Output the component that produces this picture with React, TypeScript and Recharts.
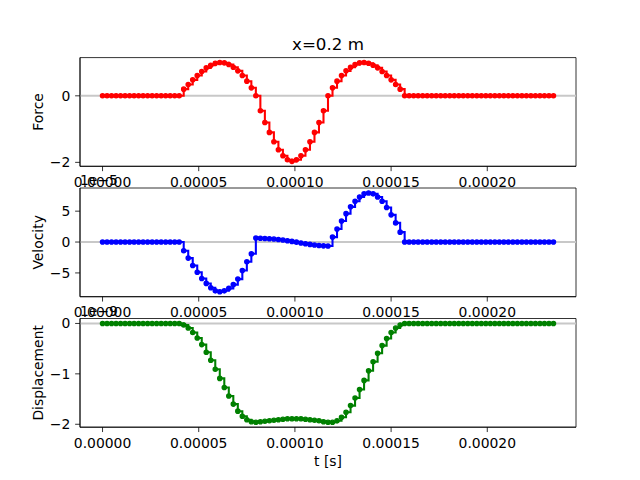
import React from "react";
import { LineChart, Line, XAxis, YAxis, ReferenceLine, ReferenceArea } from "recharts";

// sample step in seconds, 101 samples
const DT = 2.344e-6;

// force
const force = [
  0, 0, 0, 0, 0, 0, 0, 0, 0, 0, 0, 0, 0, 0, 0, 0, 0, 0,
  0.2, 0.34, 0.48, 0.61, 0.73, 0.84, 0.92, 0.98, 1.0, 0.99, 0.94, 0.86, 0.75, 0.61, 0.44, 0.24, 0.0,
  -0.45, -0.8, -1.1, -1.38, -1.62, -1.8, -1.92, -1.97, -1.92, -1.8, -1.62, -1.38, -1.1, -0.8, -0.45,
  0.0, 0.24, 0.44, 0.61, 0.75, 0.86, 0.94, 0.99, 1.0, 0.98, 0.92, 0.84, 0.73, 0.61, 0.48, 0.34, 0.2,
  0, 0, 0, 0, 0, 0, 0, 0, 0, 0, 0, 0, 0, 0, 0, 0, 0, 0, 0, 0, 0, 0, 0, 0, 0, 0, 0, 0, 0, 0, 0, 0, 0, 0,
];

// velocity, x 1e-5
const velocity = [
  0, 0, 0, 0, 0, 0, 0, 0, 0, 0, 0, 0, 0, 0, 0, 0, 0, 0,
  -1.4, -2.6, -3.8, -4.9, -5.9, -6.7, -7.4, -7.9, -8.05, -7.9, -7.5, -6.9, -6.0, -4.6, -3.2, -1.9,
  0.65, 0.62, 0.58, 0.54, 0.49, 0.42, 0.33, 0.22, 0.1, -0.02, -0.15, -0.27, -0.38, -0.48, -0.56, -0.62, -0.65,
  0.8, 2.1, 3.4, 4.6, 5.7, 6.6, 7.3, 7.8, 7.95, 7.8, 7.3, 6.6, 5.6, 4.4, 3.1, 1.6,
  0, 0, 0, 0, 0, 0, 0, 0, 0, 0, 0, 0, 0, 0, 0, 0, 0, 0, 0, 0, 0, 0, 0, 0, 0, 0, 0, 0, 0, 0, 0, 0, 0, 0,
];

// displacement, x 1e-9
const displacement = [
  0, 0, 0, 0, 0, 0, 0, 0, 0, 0, 0, 0, 0, 0, 0, 0, 0, 0,
  -0.03, -0.09, -0.18, -0.29, -0.42, -0.57, -0.73, -0.91, -1.09, -1.27, -1.44, -1.6, -1.74, -1.84, -1.91, -1.95,
  -1.96, -1.95, -1.94, -1.93, -1.92, -1.91, -1.9, -1.89, -1.89, -1.89, -1.89, -1.9, -1.91, -1.92, -1.93, -1.95, -1.96,
  -1.96, -1.93, -1.86, -1.76, -1.63, -1.48, -1.31, -1.13, -0.94, -0.76, -0.59, -0.44, -0.3, -0.18, -0.09, -0.03,
  0, 0, 0, 0, 0, 0, 0, 0, 0, 0, 0, 0, 0, 0, 0, 0, 0, 0, 0, 0, 0, 0, 0, 0, 0, 0, 0, 0, 0, 0, 0, 0, 0, 0,
];

const xTicks = [0, 0.00005, 0.0001, 0.00015, 0.0002];
const forceTicks = [-2, 0];
const velocityTicks = [-5, 0, 5];
const displacementTicks = [-2, -1, 0];

const FONT = "DejaVu Sans";
const W = 640;
const H = 480;
const LEFT = 80;
const RIGHT = 576;

const time = force.map((_, i) => i * DT);

// matplotlib style 5% margins
const pad = (lo: number, hi: number): [number, number] => [lo - 0.05 * (hi - lo), hi + 0.05 * (hi - lo)];
const xDomain = pad(time[0], time[time.length - 1]);

const fmtY = (v: number) => (v < 0 ? `\u2212${Math.abs(v)}` : `${v}`);

type PanelProps = {
  values: number[];
  color: string;
  ticks: number[];
  top: number;
  bottom: number;
};

const Panel = ({ values, color, ticks, top, bottom }: PanelProps) => {
  const rows = time.map((t, i) => ({ t, v: values[i] }));
  const yDomain = pad(Math.min(...values), Math.max(...values));
  const tickStyle = { fill: "#000", fontSize: 13.9, fontFamily: FONT };
  return (
    <div style={{ position: "absolute", left: 0, top: 0 }}>
      <LineChart
        width={W}
        height={H}
        data={rows}
        margin={{ top, right: W - RIGHT, bottom: H - bottom - 30, left: 0 }}
      >
        <XAxis
          dataKey="t"
          type="number"
          domain={xDomain}
          ticks={xTicks}
          allowDataOverflow
          height={30}
          tickSize={4.86}
          tickMargin={6}
          tick={tickStyle}
          tickFormatter={(v: number) => v.toFixed(5)}
          axisLine={{ stroke: "#000", strokeWidth: 0.8 }}
          tickLine={{ stroke: "#000", strokeWidth: 0.8 }}
        />
        <YAxis
          type="number"
          domain={yDomain}
          ticks={ticks}
          allowDataOverflow
          width={LEFT}
          tickSize={4.86}
          tickMargin={4.86}
          tick={tickStyle}
          tickFormatter={fmtY}
          axisLine={{ stroke: "#000", strokeWidth: 0.8 }}
          tickLine={{ stroke: "#000", strokeWidth: 0.8 }}
        />
        <ReferenceLine y={0} stroke="#c8c8c8" strokeWidth={2} />
        <Line
          type="stepAfter"
          dataKey="v"
          stroke={color}
          strokeWidth={2.08}
          dot={{ r: 2.1, fill: color, stroke: color, strokeWidth: 1.4 }}
          isAnimationActive={false}
        />
        <ReferenceArea
          x1={xDomain[0]}
          x2={xDomain[1]}
          y1={yDomain[0]}
          y2={yDomain[1]}
          fill="none"
          fillOpacity={0}
          stroke="#000"
          strokeWidth={0.8}
        />
      </LineChart>
    </div>
  );
};

const panels = [
  { values: force, color: "#ff0000", ticks: forceTicks, top: 57.6, bottom: 166.3, label: "Force", offset: "" },
  { values: velocity, color: "#0000ff", ticks: velocityTicks, top: 188.0, bottom: 296.7, label: "Velocity", offset: "1e\u22125" },
  { values: displacement, color: "#008000", ticks: displacementTicks, top: 318.5, bottom: 427.2, label: "Displacement", offset: "1e\u22129" },
];

export default function App() {
  return (
    <div style={{ position: "absolute", left: 0, top: 0, width: W, height: H, background: "#fff" }}>
      {panels.map((p) => (
        <Panel key={p.label} values={p.values} color={p.color} ticks={p.ticks} top={p.top} bottom={p.bottom} />
      ))}
      <svg
        width={W}
        height={H}
        style={{ position: "absolute", left: 0, top: 0, pointerEvents: "none" }}
        fontFamily={FONT}
      >
        <text x={(LEFT + RIGHT) / 2} y={49.5} textAnchor="middle" fontSize={16.7}>
          x=0.2 m
        </text>
        {panels.map((p) => (
          <g key={p.label}>
            <text
              transform={`translate(43, ${(p.top + p.bottom) / 2}) rotate(-90)`}
              textAnchor="middle"
              fontSize={13.9}
            >
              {p.label}
            </text>
            {p.offset && (
              <text x={LEFT} y={p.top - 3} fontSize={13.9}>
                {p.offset}
              </text>
            )}
          </g>
        ))}
        <text x={(LEFT + RIGHT) / 2} y={466} textAnchor="middle" fontSize={13.9}>
          t [s]
        </text>
      </svg>
    </div>
  );
}
